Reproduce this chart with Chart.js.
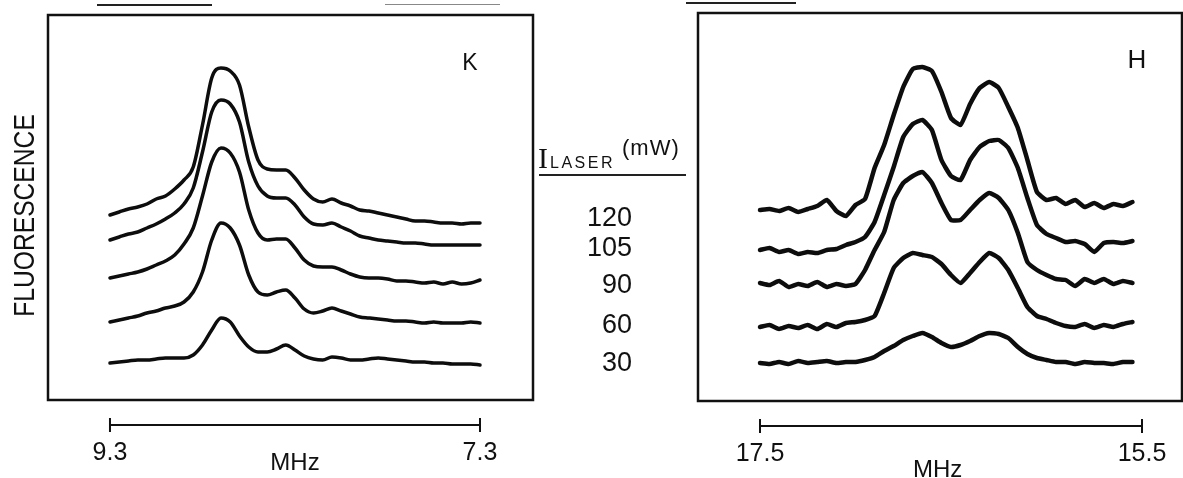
<!DOCTYPE html>
<html>
<head>
<meta charset="utf-8">
<title>Fluorescence vs laser power</title>
<script src="https://cdn.jsdelivr.net/npm/chart.js@4.4.1/dist/chart.umd.min.js"></script>
<style>
  html, body { margin: 0; padding: 0; background: #fff; }
  body { width: 1183px; height: 478px; position: relative; overflow: hidden;
         font-family: "Liberation Sans", Arial, sans-serif; color: #111; }
  canvas { position: absolute; top: 0; }
  #chartK { left: 0; }
  #chartH { left: 600px; }
  .lbl { position: absolute; line-height: 1; white-space: nowrap; }
  .rule { position: absolute; background: #222; }
  .pw { position: absolute; left: 560px; width: 72px; text-align: right; font-size: 27px; line-height: 1; }
</style>
</head>
<body>
<canvas id="chartK" width="560" height="478"></canvas>
<canvas id="chartH" width="583" height="478"></canvas>

<!-- scraps of the previous figure at the top edge of the scan -->
<div class="rule" style="left:97px;top:4px;width:115px;height:2px;"></div>
<div class="rule" style="left:385px;top:4px;width:115px;height:1px;background:#888;"></div>
<div class="rule" style="left:686px;top:2px;width:110px;height:2px;"></div>

<!-- laser power key between the panels -->
<div class="lbl" style="left:538px;top:143px;font-family:'Liberation Serif','Times New Roman',serif;font-size:30px;">I</div>
<div class="lbl" style="left:550px;top:155px;font-size:16px;letter-spacing:2.5px;">LASER</div>
<div class="lbl" style="left:622px;top:137px;font-size:22px;letter-spacing:1px;">(mW)</div>
<div class="rule" style="left:539px;top:174px;width:147px;height:2px;"></div>
<div id="powerKey"></div>

<script>
// K panel: frequency grid (MHz) and the five traces, arbitrary fluorescence units incl. stacking offset
const kMHz = [9.30, 9.25, 9.20, 9.15, 9.10, 9.05, 9.00, 8.95, 8.90, 8.85, 8.80, 8.75, 8.70, 8.65,
              8.60, 8.55, 8.50, 8.45, 8.40, 8.35, 8.30, 8.25, 8.20, 8.15, 8.10, 8.05, 8.00, 7.95,
              7.90, 7.85, 7.80, 7.75, 7.70, 7.65, 7.60, 7.55, 7.50, 7.45, 7.40, 7.35, 7.30];
const k120 = [37, 37.6, 38.2, 38.6, 39.2, 40.2, 40.8, 42.2, 44, 46.6, 55, 64.4, 66.4, 65.8, 63, 54.6,
              48, 46.2, 46, 46, 44.4, 42, 40.2, 39.6, 40.2, 39.4, 38.8, 38, 37.8, 37.4, 37, 36.6,
              36.2, 35.8, 35.8, 35.6, 35.4, 35.4, 35.2, 35.4, 35.4];
const k105 = [32, 32.6, 33.2, 33.6, 34.4, 35.2, 36.2, 37.4, 39.2, 42.4, 49.6, 57.6, 60, 59.2, 55.6,
              47.6, 42.8, 40.8, 40.4, 40.4, 39, 36.6, 35.2, 35, 35.4, 34.6, 33.8, 32.8, 32.4, 32,
              31.8, 31.6, 31.4, 31.4, 31.2, 31, 31, 31, 31, 31, 31];
const k90 = [24.4, 24.8, 25.2, 25.6, 26.2, 27, 27.8, 29, 31.2, 34.4, 40.8, 47.6, 50.4, 49.4, 45.6,
             38, 33.4, 32, 32.2, 32.2, 30.4, 28, 26.8, 26.6, 26.6, 26, 25.2, 24.6, 24.4, 24.4,
             24.2, 23.8, 23.8, 23.6, 23.4, 23.6, 23.2, 23.6, 23.2, 23.4, 24];
const k60 = [15.6, 16, 16.4, 16.8, 17.4, 17.8, 18.4, 18.8, 19.6, 21.6, 25.6, 32, 35.4, 34.4, 31,
             25, 21.6, 21, 21.6, 22, 20.4, 18.2, 17.4, 17.8, 18.4, 17.8, 17.2, 16.6, 16.4, 16.2,
             16, 15.8, 15.8, 15.6, 15.4, 15.6, 15.4, 15.4, 15.4, 15.6, 15.4];
const k30 = [7.4, 7.6, 7.8, 8, 8, 8.2, 8.4, 8.4, 8.4, 9, 11, 14, 16.4, 15.6, 12.8, 10.6, 9.6, 9.6,
             10.2, 11, 10, 8.8, 8.2, 8, 8.6, 8.4, 8, 8, 8.2, 8.4, 8.2, 8, 7.8, 7.6, 7.6, 7.4,
             7.4, 7.2, 7.2, 7.2, 7];

// H panel
const hMHz = [17.50, 17.45, 17.40, 17.35, 17.30, 17.25, 17.20, 17.15, 17.10, 17.05, 17.00, 16.95,
              16.90, 16.85, 16.80, 16.75, 16.70, 16.65, 16.60, 16.55, 16.50, 16.45, 16.40, 16.35,
              16.30, 16.25, 16.20, 16.15, 16.10, 16.05, 16.00, 15.95, 15.90, 15.85, 15.80, 15.75,
              15.70, 15.65, 15.60, 15.55];
const h120 = [38, 38.2, 37.8, 38.4, 37.6, 38.2, 38.8, 40, 37.8, 36.8, 39, 40.2, 46.4, 51, 57, 62.6,
              66.2, 66.6, 65.8, 61.6, 56.4, 55, 59.2, 62.4, 63.6, 62.4, 58.6, 54.4, 48, 41.6, 40,
              40.4, 39.2, 40, 38.6, 39.4, 38.4, 39.2, 38.8, 39.6];
const h105 = [30, 30.4, 29.6, 30, 29.2, 29.6, 29.4, 30, 30.2, 31, 31.6, 32.6, 35.6, 41, 46.6, 52.6,
              55.2, 56, 54, 48, 44.8, 44, 48, 50.6, 51.8, 52, 50.4, 46.4, 40.4, 35, 33.2, 32.4,
              31.6, 31.8, 31.2, 29.6, 31.4, 31.6, 31.4, 31.8];
const h90 = [23.4, 23, 23.8, 22.6, 23.2, 22.8, 23.6, 22.6, 23.2, 22.8, 23.2, 26, 30, 33.6, 40, 43.4,
             44.8, 45.6, 43.4, 39.4, 36, 36, 38, 40, 41.4, 40.4, 38, 33.4, 27.6, 26, 25, 24.2, 24,
             22.8, 24.2, 23.4, 24.2, 23.2, 23.8, 23.4];
const h60 = [14.6, 15, 14.2, 14.8, 14.4, 15, 14.2, 15.2, 14.6, 15.4, 15.6, 16, 16.8, 21.4, 26.4,
             28.4, 29.4, 29, 28.6, 27.2, 25, 23.4, 25.4, 27.6, 29.4, 28.4, 26, 22.4, 18.6, 16.8,
             16.2, 15.4, 14.8, 14.6, 15.2, 14.4, 15, 14.6, 15.2, 15.6];
const h30 = [7.4, 7.2, 7.6, 7.2, 7.8, 7.4, 7.6, 7.8, 7.4, 7.6, 7.6, 8, 8.6, 9.8, 10.8, 12, 12.8,
             13.4, 12.6, 11.4, 10.6, 11, 11.8, 12.8, 13.4, 13.2, 12.4, 10.6, 9.2, 8.4, 8, 7.6,
             7.6, 7.2, 7.6, 7.4, 7.4, 7.2, 7.6, 7.6];

const powers = [120, 105, 90, 60, 30];     // I_LASER (mW), top trace to bottom trace
const kBar = [9.3, 7.3];                   // scale bar ends under each panel
const hBar = [17.5, 15.5];

// key labels (layout only)
const powerTop = [204, 234, 271, 311, 349];
const key = document.getElementById('powerKey');
powers.forEach((p, i) => {
  const d = document.createElement('div');
  d.className = 'pw';
  d.style.top = powerTop[i] + 'px';
  d.textContent = p;
  key.appendChild(d);
});

const FONT = '"Liberation Sans", Arial, sans-serif';

// box round the plot, scale bar with end ticks, labels
const panelDeco = {
  id: 'panelDeco',
  afterDraw(chart, args, o) {
    const ctx = chart.ctx, a = chart.chartArea, x = chart.scales.x;
    ctx.save();
    ctx.strokeStyle = '#111';
    ctx.lineWidth = 2.5;
    ctx.strokeRect(a.left, a.top, a.right - a.left, a.bottom - a.top);

    const x0 = x.getPixelForValue(o.bar[0]), x1 = x.getPixelForValue(o.bar[1]);
    const yb = a.bottom + 25;
    ctx.lineWidth = 2;
    ctx.beginPath();
    ctx.moveTo(x0, yb); ctx.lineTo(x1, yb);
    ctx.moveTo(x0, yb - 7); ctx.lineTo(x0, yb + 7);
    ctx.moveTo(x1, yb - 7); ctx.lineTo(x1, yb + 7);
    ctx.stroke();

    ctx.fillStyle = '#111';
    ctx.textAlign = 'center';
    ctx.textBaseline = 'alphabetic';
    ctx.font = '25px ' + FONT;
    ctx.fillText(o.bar[0].toFixed(1), x0, a.bottom + 60);
    ctx.fillText(o.bar[1].toFixed(1), x1, a.bottom + 60);
    ctx.font = '24px ' + FONT;
    ctx.fillText('MHz', x.getPixelForValue(o.titleAt), a.bottom + o.titleDy);

    ctx.font = o.letterSize + 'px ' + FONT;
    ctx.fillText(o.letter, a.right - o.letterDx, a.top + 55);

    if (o.yTitle) {
      ctx.translate(34, (a.top + a.bottom) / 2 + 8);
      ctx.rotate(-Math.PI / 2);
      ctx.scale(0.85, 1);
      ctx.font = '29px ' + FONT;
      ctx.fillText(o.yTitle, 0, 0);
    }
    ctx.restore();
  }
};

function traces(mhz, series) {
  return series.map((vals, i) => ({
    label: powers[i] + ' mW',
    data: mhz.map((m, j) => ({ x: m, y: vals[j] })),
    borderColor: '#0d0d0d',
    pointRadius: 0
  }));
}

new Chart(document.getElementById('chartK'), {
  type: 'line',
  data: { datasets: traces(kMHz, [k120, k105, k90, k60, k30]) },
  plugins: [panelDeco],
  options: {
    responsive: false,
    animation: false,
    layout: { padding: { left: 48, right: 27, top: 15, bottom: 78 } },
    elements: { line: { borderWidth: 3.5, cubicInterpolationMode: 'monotone',
                        borderCapStyle: 'round', borderJoinStyle: 'round' } },
    plugins: {
      legend: { display: false },
      tooltip: { enabled: false },
      panelDeco: { bar: kBar, titleAt: 8.3, titleDy: 70, letter: 'K', letterSize: 23,
                   letterDx: 63, yTitle: 'FLUORESCENCE' }
    },
    scales: {
      x: { type: 'linear', reverse: true, min: 7.0135, max: 9.635, display: false },
      y: { min: 0, max: 77, display: false }
    }
  }
});

new Chart(document.getElementById('chartH'), {
  type: 'line',
  data: { datasets: traces(hMHz, [h120, h105, h90, h60, h30]) },
  plugins: [panelDeco],
  options: {
    responsive: false,
    animation: false,
    layout: { padding: { left: 98, right: 1, top: 13, bottom: 77 } },
    elements: { line: { borderWidth: 4.5, tension: 0.15,
                        borderCapStyle: 'round', borderJoinStyle: 'round' } },
    plugins: {
      legend: { display: false },
      tooltip: { enabled: false },
      panelDeco: { bar: hBar, titleAt: 16.57, titleDy: 76, letter: 'H', letterSize: 26,
                   letterDx: 45 }
    },
    scales: {
      x: { type: 'linear', reverse: true, min: 15.2906, max: 17.8246, display: false },
      y: { min: -0.2, max: 77.4, display: false }
    }
  }
});
</script>
</body>
</html>
